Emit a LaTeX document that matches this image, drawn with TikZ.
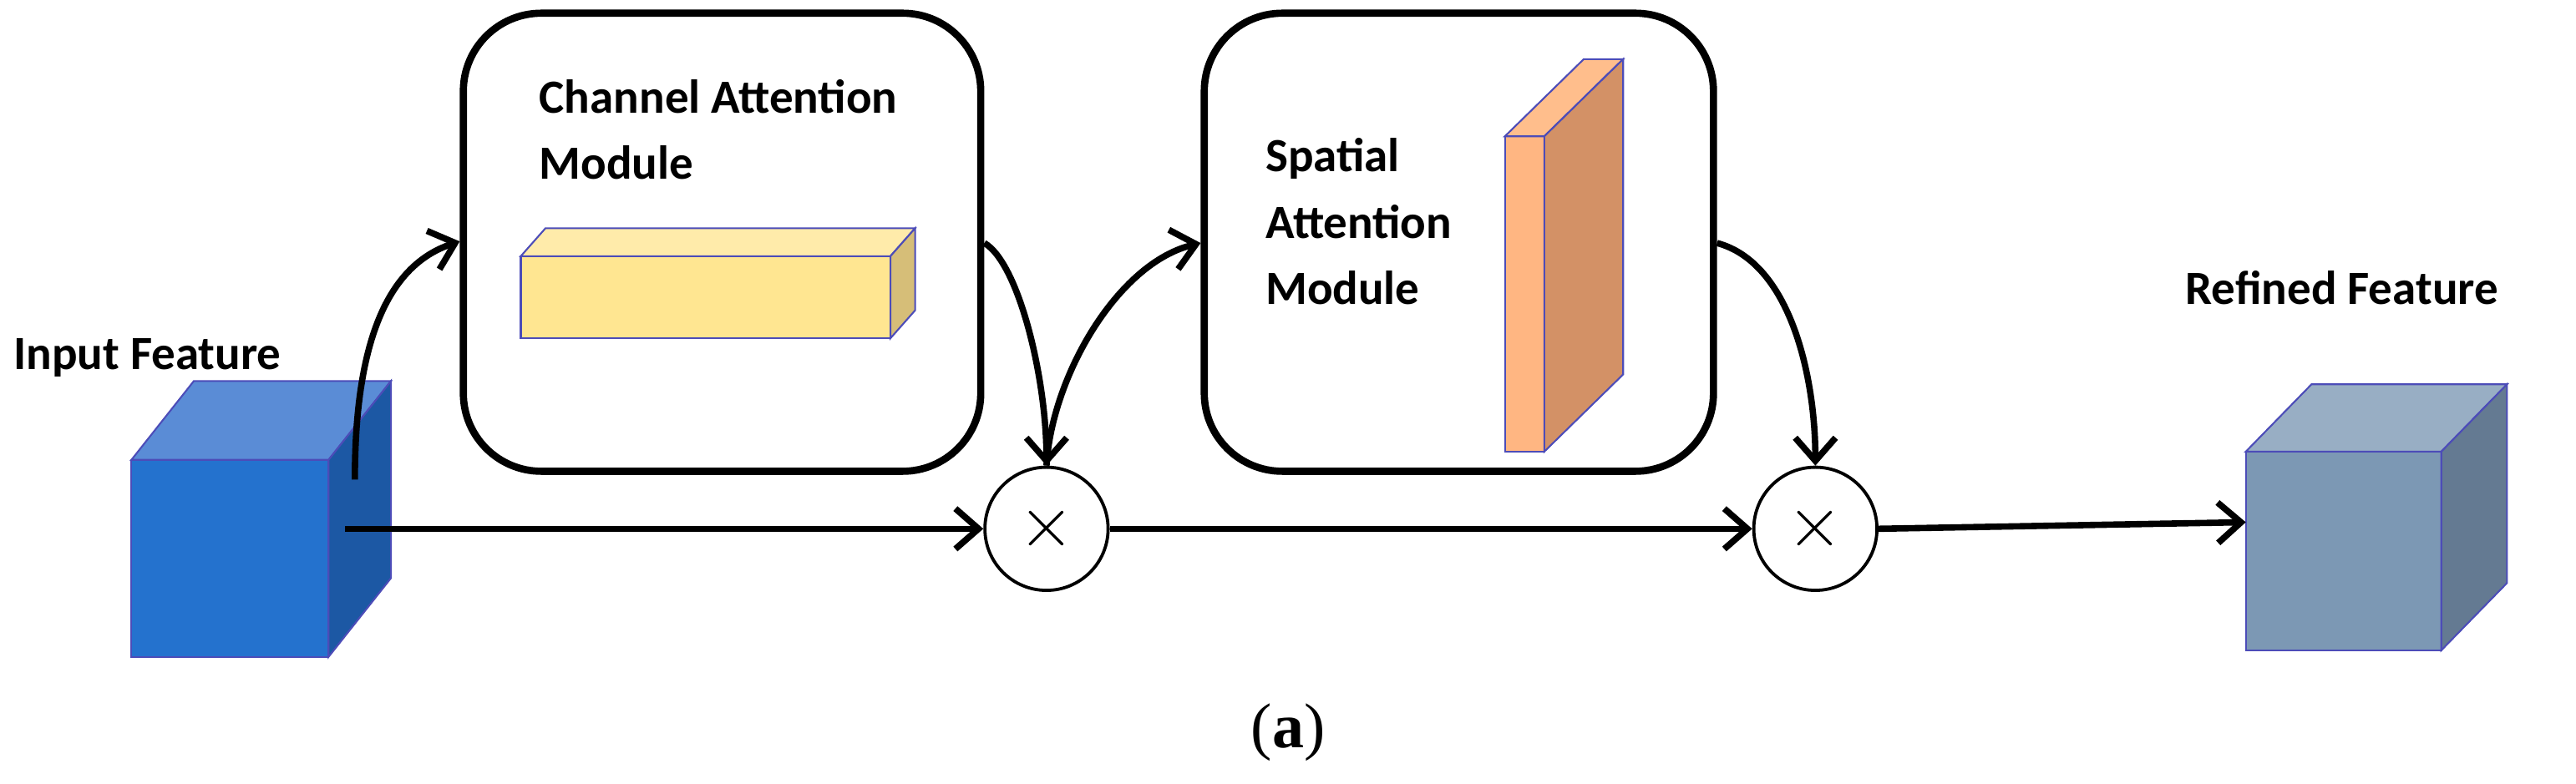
\documentclass[tikz,border=0pt]{standalone}
\usepackage{fontspec}
\setmainfont{Carlito}
\newfontfamily\serifa{Liberation Serif}
\usetikzlibrary{arrows.meta}
\begin{document}
\begin{tikzpicture}[x=0.02cm,y=-0.02cm,
  lbl/.style={font=\fontsize{16.5}{20}\selectfont\bfseries, anchor=west, inner sep=0},
  modbox/.style={draw=black, line width=2.5pt, rounded corners=0.95cm},
  conn/.style={draw=black, line width=2.2pt, -{Straight Barb[length=8pt,width=14pt,line width=2.2pt]}},
  mult/.style={circle, draw=black, line width=1.1pt, minimum size=1.5cm, inner sep=0, font=\fontsize{30}{30}\selectfont},
  edge/.style={draw=blue!60!black!70, line width=0.6pt}]
\useasboundingbox (0,0) rectangle (1568,477);
% input cube
\fill[edge, fill={rgb,255:red,36;green,114;blue,206}] (80,280) rectangle (200,400);
\fill[edge, fill={rgb,255:red,90;green,140;blue,214}] (80,280) -- (118,232) -- (238,232) -- (200,280) -- cycle;
\fill[edge, fill={rgb,255:red,28;green,88;blue,164}] (200,280) -- (238,232) -- (238,352) -- (200,400) -- cycle;
\node[lbl] (inlbl) at (8,218) {Input Feature};
\coordinate (inA) at (216,292);
\coordinate (inB) at (210,322);
% module boxes
\node[modbox, minimum width=6.3cm, minimum height=5.58cm] (cam) at (439.5,147.5) {};
\node[modbox, minimum width=6.2cm, minimum height=5.58cm] (sam) at (888,147.5) {};
\node[lbl, align=left] (camlbl) at (328,79) {Channel Attention\\[3pt]Module};
\node[lbl, align=left] (samlbl) at (770,135) {Spatial\\[3pt]Attention\\[3pt]Module};
% yellow bar
\fill[edge, fill={rgb,255:red,255;green,230;blue,145}] (317,156) rectangle (542,206);
\fill[edge, fill={rgb,255:red,255;green,235;blue,170}] (317,156) -- (332,139) -- (557,139) -- (542,156) -- cycle;
\fill[edge, fill={rgb,255:red,214;green,190;blue,120}] (542,156) -- (557,139) -- (557,189) -- (542,206) -- cycle;
% orange slab
\fill[edge, fill={rgb,255:red,255;green,182;blue,130}] (916,83) rectangle (940,275);
\fill[edge, fill={rgb,255:red,255;green,190;blue,140}] (916,83) -- (964,36) -- (988,36) -- (940,83) -- cycle;
\fill[edge, fill={rgb,255:red,211;green,145;blue,102}] (940,83) -- (988,36) -- (988,228) -- (940,275) -- cycle;
% refined cube
\fill[edge, fill={rgb,255:red,124;green,152;blue,180}] (1367,275) rectangle (1486,396);
\fill[edge, fill={rgb,255:red,152;green,174;blue,196}] (1367,275) -- (1407,234) -- (1526,234) -- (1486,275) -- cycle;
\fill[edge, fill={rgb,255:red,100;green,122;blue,146}] (1486,275) -- (1526,234) -- (1526,355) -- (1486,396) -- cycle;
\node[lbl] (outlbl) at (1330,175) {Refined Feature};
\coordinate (outA) at (1367,318);
% multipliers
\node[mult] (m1) at (637,322) {$\times$};
\node[mult] (m2) at (1105,322) {$\times$};
\node[font=\fontsize{22}{22}\selectfont\serifa] (cap) at (784,446) {(\textbf{a})};
% connectors
\draw[conn] (inA) .. controls (216,200) and (240,160) .. (cam.west |- 0,147);
\draw[conn] (inB) -- (m1.west);
\draw[conn] (cam.east |- 0,148) .. controls (620,160) and (637,230) .. (m1.north);
\draw[conn] (m1.north) .. controls (640,230) and (680,160) .. (sam.west |- 0,148);
\draw[conn] (m1.east) -- (m2.west);
\draw[conn] (sam.east |- 0,148) .. controls (1090,160) and (1105,230) .. (m2.north);
\draw[conn] (m2.east) -- (outA);
\end{tikzpicture}
\end{document}
